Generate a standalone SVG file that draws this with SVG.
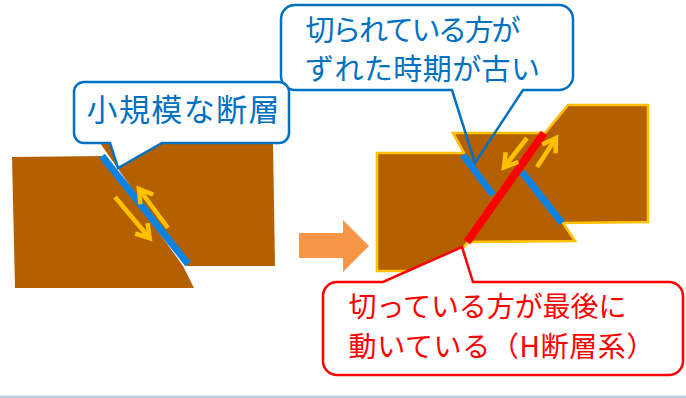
<svg xmlns="http://www.w3.org/2000/svg" width="686" height="398" viewBox="0 0 686 398">
  <defs>
    <style>
      .rock{fill:#B46000}
      .rock-edged{fill:#B46000;stroke:#FFC000;stroke-width:2.6;stroke-linejoin:miter}
      .fault-blue{stroke:#0C83E2;stroke-width:7;stroke-linecap:butt;fill:none}
      .fault-red{stroke:#FF0000;stroke-width:8;stroke-linecap:butt;fill:none}
      .slip{stroke:#FFC000;stroke-width:4.5;fill:none;marker-end:url(#chev)}
      .callout-blue{fill:#FFFFFF;stroke:#0070C0;stroke-width:2.5;stroke-linejoin:miter}
      .callout-blue-open{fill:none;stroke:#0070C0;stroke-width:2.5;stroke-linejoin:miter}
      .callout-red{fill:#FFFFFF;stroke:#FF0000;stroke-width:2.5;stroke-linejoin:miter}
      text{font-family:"Noto Sans CJK JP","Noto Sans",sans-serif}
      .lbl-blue{fill:#0070C0}
      .lbl-red{fill:#FF0000}
    </style>
    <marker id="chev" viewBox="0 0 20 20" refX="16" refY="10" markerWidth="20" markerHeight="20" markerUnits="userSpaceOnUse" orient="auto" overflow="visible">
      <path d="M3,2 L16,10 L3,18" fill="none" stroke="#FFC000" stroke-width="4.5"/>
    </marker>
  </defs>

  <rect width="686" height="398" fill="#FFFFFF"/>
  <!-- bottom frame edge -->
  <rect x="0" y="395.5" width="686" height="2.5" fill="#BFD1E8"/>

  <!-- small fault: two blocks -->
  <g id="small-fault">
    <path class="rock" d="M12,157 L104,156 L183,266 L194,288 L15,288 Z"/>
    <path class="rock" d="M100,143 L273,144 L275,266 L186,266 Z"/>
    <line class="fault-blue" x1="102" y1="156" x2="188" y2="264"/>
    <line class="slip" x1="168" y1="228" x2="139" y2="189"/>
    <line class="slip" x1="115" y1="197" x2="149.7" y2="238.3"/>
  </g>

  <!-- transition arrow -->
  <g id="transition-arrow">
    <path d="M299,233 H343 V220 L369,246 L343,272 V258 H299 Z" fill="#F79646"/>
  </g>

  <!-- cross-cut faults: blocks split by the red H fault -->
  <g id="cross-fault">
    <path class="rock-edged" d="M377,153 L464,153 L453,133 L542,133 L467,243 L458,255 L452,271 L377,271 Z"/>
    <path class="rock-edged" d="M545,133 L568,105 L648,105 L648,222 L563,223 L575,241 L468,242 Z"/>
    <line class="fault-blue" x1="463" y1="155" x2="493" y2="195"/>
    <line class="fault-blue" x1="522" y1="172" x2="562" y2="223"/>
    <line class="fault-red" x1="544" y1="133" x2="467" y2="242"/>
    <line class="slip" x1="527" y1="138" x2="504" y2="167.3"/>
    <line class="slip" x1="537" y1="167" x2="556" y2="138"/>
  </g>

  <!-- callout: older offset fault -->
  <g id="callout-older">
    <path class="callout-blue-open" d="M295,5 H559 A14,14 0 0 1 573,19 V76 A14,14 0 0 1 559,90 H523 L475,163 L452,90 H295 A14,14 0 0 1 281,76 V19 A14,14 0 0 1 295,5 Z"/>
    <text class="lbl-blue" x="305.5" y="41" font-size="29" textLength="215" lengthAdjust="spacing">切られている方が</text>
    <text class="lbl-blue" x="305" y="80" font-size="29" textLength="235" lengthAdjust="spacing">ずれた時期が古い</text>
  </g>

  <!-- callout: small fault -->
  <g id="callout-small">
    <path class="callout-blue" d="M84,82 H279 A10,10 0 0 1 289,92 V133 A10,10 0 0 1 279,143 H162 L118,168 L110,143 H84 A10,10 0 0 1 74,133 V92 A10,10 0 0 1 84,82 Z"/>
    <text class="lbl-blue" x="86.5" y="121" font-size="31" textLength="193" lengthAdjust="spacing">小規模な断層</text>
  </g>

  <!-- callout: latest fault (H fault system) -->
  <g id="callout-latest">
    <path class="callout-red" d="M337,282 H383 L462,247 L473,282 H669 A14,14 0 0 1 683,296 V361 A14,14 0 0 1 669,375 H337 A14,14 0 0 1 323,361 V296 A14,14 0 0 1 337,282 Z"/>
    <text class="lbl-red" x="348.5" y="317" font-size="28" textLength="278" lengthAdjust="spacing">切っている方が最後に</text>
    <text class="lbl-red" x="348.5" y="357" font-size="28" textLength="306" lengthAdjust="spacing">動いている（H断層系）</text>
  </g>
</svg>
